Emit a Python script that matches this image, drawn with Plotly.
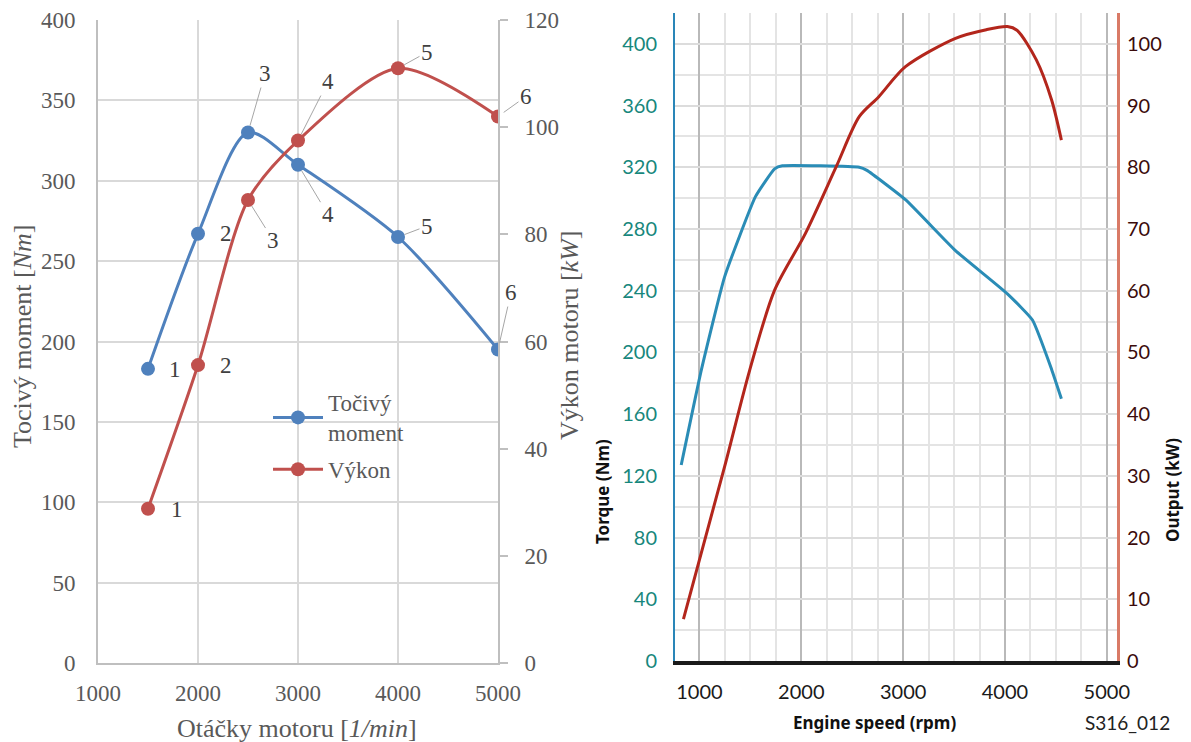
"""Engine torque / power curves: measured points (left) next to the catalogue chart (right)."""

import plotly.graph_objects as go

# ---- left chart data (measured points) ----
rpm_meas = [1500, 2000, 2500, 3000, 4000, 5000]
torque_meas = [183, 267, 330, 310, 265, 195]      # Nm
power_meas = [28.8, 55.6, 86.4, 97.5, 111.0, 102.0]  # kW
point_labels = ["1", "2", "3", "4", "5", "6"]

rpm_cat_t = [821, 1020, 1247, 1550, 1738, 1814, 2569, 2645, 3023, 3514, 4024, 4270, 4458, 4554]
torque_cat = [127, 189, 249, 301, 319, 321, 320, 318, 299, 266, 238, 221, 189, 170]
rpm_cat_p = [843, 1247, 1493, 1738, 2041, 2343, 2569, 2759, 3023, 3514, 3817, 4024, 4118, 4308, 4458, 4554]
power_cat = [6.8, 31.5, 47.1, 60.1, 69.3, 80.1, 88.2, 91.4, 96.3, 100.9, 102.3, 102.8, 102.2, 97.4, 90.9, 84.4]

W, H = 1191, 742
BLUE, RED = "#4f81bd", "#c0504d"
GREY_TXT = "#595959"
SERIF = "Liberation Serif, Times New Roman, serif"
SANS = "Lato, Noto Sans, sans-serif"
SANS_B = "Noto Sans, Lato, sans-serif"


def px(x):
    return x / W


def py(y):
    return 1 - y / H


fig = go.Figure()

# left chart traces
fig.add_trace(go.Scatter(
    x=rpm_meas, y=torque_meas, name="Točivý<br>moment", mode="lines+markers",
    line=dict(color=BLUE, width=3, shape="spline", smoothing=0.8),
    marker=dict(size=14, color=BLUE), xaxis="x", yaxis="y", legendgroup="a",
))
fig.add_trace(go.Scatter(
    x=rpm_meas, y=power_meas, name="Výkon", mode="lines+markers",
    line=dict(color=RED, width=3, shape="spline", smoothing=0.8),
    marker=dict(size=14, color=RED), xaxis="x", yaxis="y2", legendgroup="b",
))

# right chart traces
fig.add_trace(go.Scatter(
    x=rpm_cat_t, y=torque_cat, mode="lines", showlegend=False,
    line=dict(color="#2a8cb6", width=3, shape="spline", smoothing=0.4),
    xaxis="x2", yaxis="y3",
))
fig.add_trace(go.Scatter(
    x=rpm_cat_p, y=power_cat, mode="lines", showlegend=False,
    line=dict(color="#b3261c", width=3, shape="spline", smoothing=0.8),
    xaxis="x2", yaxis="y4",
))

# data labels with leader lines (offsets in px: dx, dy, leader?)
torque_off = [(27, 1, False), (28, 0, False), (17, -59, True), (30, 50, True), (29, -11, True), (13, -57, True)]
power_off = [(29, 1, False), (28, 0, False), (25, 40, True), (30, -59, True), (29, -16, True), (28, -20, True)]

annotations = []
for ys, offs, yref in ((torque_meas, torque_off, "y"), (power_meas, power_off, "y2")):
    for xv, yv, lab, (dx, dy, lead) in zip(rpm_meas, ys, point_labels, offs):
        a = dict(x=xv, y=yv, xref="x", yref=yref, text=lab,
                 font=dict(family=SERIF, size=23, color="#404040"))
        if lead:
            a.update(showarrow=True, arrowhead=0, arrowwidth=1, arrowcolor="#a6a6a6",
                     ax=dx, ay=dy, standoff=7)
        else:
            a.update(showarrow=False, xshift=dx, yshift=-dy)
        annotations.append(a)


def title(x, y, text, font, angle=0):
    return dict(x=px(x), y=py(y), xref="paper", yref="paper", text=text,
                xanchor="center", yanchor="middle", textangle=angle,
                showarrow=False, font=font)


serif_title = dict(family=SERIF, size=26, color=GREY_TXT)
sans_title = dict(family=SANS_B, size=17, color="#111111")
annotations += [
    title(22, 336, "Tocivý moment [<i>Nm</i>]", serif_title, -90),
    title(569, 336, "Výkon motoru [<i>kW</i>]", serif_title, -90),
    title(297, 728, "Otáčky motoru [<i>1/min</i>]", serif_title),
    title(602, 492, "<b>Torque (Nm)</b>", sans_title, -90),
    title(1172, 490, "<b>Output (kW)</b>", sans_title, -90),
    title(874, 722, "<b>Engine speed (rpm)</b>", sans_title),
    title(1127, 722, "S316_012", dict(family=SANS, size=19, color="#222222")),
]

left_dom_x = [px(98), px(498)]
left_dom_y = [py(663), py(20)]
right_dom_x = [px(675), px(1117)]
right_dom_y = [py(661), py(13)]

serif_ticks = dict(family=SERIF, size=23, color=GREY_TXT)

fig.update_layout(
    width=W, height=H, margin=dict(l=0, r=0, t=0, b=0),
    paper_bgcolor="white", plot_bgcolor="white",
    showlegend=True,
    legend=dict(x=px(268), y=py(381), xanchor="left", yanchor="top",
                bgcolor="rgba(0,0,0,0)", font=serif_ticks, tracegroupgap=4,
                traceorder="grouped", itemwidth=50),
    xaxis=dict(domain=left_dom_x, anchor="y", range=[1000, 5000], dtick=1000, tick0=0,
               showgrid=True, gridcolor="#d9d9d9", gridwidth=1.5, zeroline=False,
               showline=True, linecolor="#bfbfbf", linewidth=2, ticks="",
               tickfont=serif_ticks, ticklabelstandoff=8, automargin=False),
    yaxis=dict(domain=left_dom_y, anchor="x", range=[0, 400], dtick=50,
               showgrid=True, gridcolor="#d9d9d9", gridwidth=1.5, zeroline=False,
               showline=True, linecolor="#bfbfbf", linewidth=2, ticks="",
               tickfont=serif_ticks, ticklabelstandoff=16, automargin=False),
    yaxis2=dict(overlaying="y", side="right", anchor="x", range=[0, 120], dtick=20,
                showgrid=False, zeroline=False, showline=True, linecolor="#bfbfbf",
                linewidth=2, ticks="outside", ticklen=8, tickcolor="#bfbfbf", tickwidth=2,
                tickfont=serif_ticks, ticklabelstandoff=12, automargin=False),
    xaxis2=dict(domain=right_dom_x, anchor="y3", range=[760, 5100], dtick=1000, tick0=0,
                showgrid=True, gridcolor="#b9b9b9", gridwidth=1.5, zeroline=False,
                minor=dict(dtick=250, tick0=0, showgrid=True, gridcolor="#e4e4e4", gridwidth=1.5),
                showline=True, linecolor="#1a1a1a", linewidth=4, ticks="",
                tickfont=dict(family=SANS, size=20, color="#1a1a1a"), ticklabelstandoff=10,
                automargin=False),
    yaxis3=dict(domain=right_dom_y, anchor="x2", range=[0, 420], dtick=40,
                showgrid=True, gridcolor="#dcdcdc", gridwidth=1.5, zeroline=False,
                minor=dict(dtick=20, showgrid=True, gridcolor="#e4e4e4", gridwidth=1.5),
                showline=True, linecolor="#2a86b8", linewidth=2, ticks="",
                tickfont=dict(family=SANS, size=20, color="#17877c"), ticklabelstandoff=12,
                automargin=False),
    yaxis4=dict(overlaying="y3", side="right", anchor="x2", range=[0, 105], dtick=10,
                showgrid=False, zeroline=False, showline=True, linecolor="#d97a66",
                linewidth=3, ticks="",
                tickfont=dict(family=SANS, size=20, color="#3b0b0b"), ticklabelstandoff=3,
                automargin=False),
    annotations=annotations,
)

fig.write_html("out.html", config={"displayModeBar": False},
               post_script="document.body.style.margin='0px';")
